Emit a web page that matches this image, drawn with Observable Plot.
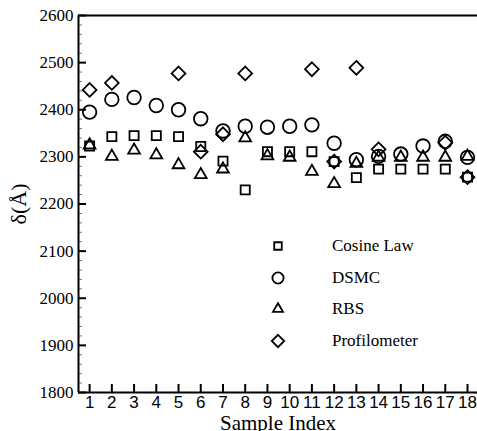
<!DOCTYPE html>
<html>
<head>
<meta charset="utf-8">
<script src="https://cdn.jsdelivr.net/npm/d3@7"></script>
<script src="https://cdn.jsdelivr.net/npm/@observablehq/plot@0.6"></script>
<style>
  html, body { margin: 0; padding: 0; background: #fff; }
  #wrap { position: relative; width: 477px; height: 431px; overflow: hidden; }
  #legend { position: absolute; left: 266px; top: 230px; font-family: "Liberation Serif", "Times New Roman", serif; font-size: 17px; color: #000; }
  .row { height: 31.7px; display: flex; align-items: center; }
  .row svg { width: 24px; height: 24px; margin-right: 42px; }
</style>
</head>
<body>
<div id="wrap"></div>
<script>
const samples = [1,2,3,4,5,6,7,8,9,10,11,12,13,14,15,16,17,18];
const cosineLaw = [2323,2343,2345,2345,2343,2322,2291,2230,2311,2311,2311,2290,2256,2274,2274,2274,2274,2257];
const dsmc      = [2395,2422,2426,2409,2400,2381,2355,2365,2363,2365,2368,2329,2294,2301,2306,2323,2333,2299];
const rbs       = [2325,2301,2314,2304,2283,2262,2274,2340,2302,2299,2269,2243,2286,2299,2299,2299,2299,2301];
const profilometer = [2442,2457,null,null,2477,2311,2348,2477,null,null,2486,2290,2489,2316,null,null,2330,2257];
const seriesNames = ["Cosine Law","DSMC","RBS","Profilometer"];
const yTicks = [1800,1900,2000,2100,2200,2300,2400,2500,2600];
const yMinorTicks = d3.range(1800, 2601, 20).filter(v => v % 100 !== 0);
const xDomain = [0.5, 18.45];
const yDomain = [1800, 2600];

const toRows = vals => samples.map((s, i) => ({x: s, y: vals[i]})).filter(d => d.y != null);

const W = 477, H = 431, mL = 78, mR = 0, mT = 15, mB = 39;
const frameW = W - mL - mR, frameH = H - mT - mB;
const sw = 1.8;

const chart = Plot.plot({
  width: W, height: H,
  marginLeft: mL, marginRight: mR, marginTop: mT, marginBottom: mB,
  style: {fontFamily: "'Liberation Serif', serif", fontSize: "15px", background: "#fff", overflow: "visible"},
  x: {domain: xDomain, ticks: samples},
  y: {domain: yDomain, ticks: yTicks},
  marks: [
    Plot.tickY(yMinorTicks, {y: d => d, insetRight: frameW - 4, stroke: "#777", strokeWidth: 1}),
    Plot.tickY(yTicks, {y: d => d, insetRight: frameW - 8, stroke: "#000", strokeWidth: 2}),
    Plot.tickX(samples, {x: d => d, insetTop: frameH - 8, stroke: "#000", strokeWidth: 2}),
    Plot.ruleX([xDomain[0]], {stroke: "#000", strokeWidth: 2}),
    Plot.ruleY(yDomain, {stroke: "#000", strokeWidth: 2}),
    Plot.axisY({ticks: yTicks, tickSize: 0, tickPadding: 5, tickFormat: d => String(d), fontSize: 17, fontFamily: "'Liberation Serif', serif", label: null}),
    Plot.axisX({ticks: samples, tickSize: 0, tickPadding: 3, tickFormat: d => String(d), fontSize: 17, fontFamily: "'Liberation Sans', Arial, sans-serif", label: null}),
    Plot.text(["Sample Index"], {text: d => d, frameAnchor: "bottom", dy: 31, fontSize: 21, fontFamily: "'Liberation Serif', serif", lineAnchor: "middle", textAnchor: "middle"}),
    Plot.text(["δ(Å)"], {text: d => d, frameAnchor: "left", dx: -60, rotate: -90, fontSize: 22, fontFamily: "'Liberation Serif', serif", lineAnchor: "middle", textAnchor: "middle"}),
    Plot.dot(toRows(cosineLaw), {x: "x", y: "y", symbol: "square2", r: 5.8, stroke: "#000", strokeWidth: sw, fill: "none"}),
    Plot.dot(toRows(dsmc), {x: "x", y: "y", symbol: "circle", r: 6.8, stroke: "#000", strokeWidth: sw, fill: "none"}),
    Plot.dot(toRows(rbs), {x: "x", y: "y", symbol: "triangle2", r: 5.6, stroke: "#000", strokeWidth: sw, fill: "none"}),
    Plot.dot(toRows(profilometer), {x: "x", y: "y", symbol: "diamond2", r: 6.2, stroke: "#000", strokeWidth: sw, fill: "none"})
  ]
});

const wrap = document.getElementById("wrap");
wrap.appendChild(chart);

// legend overlay
const symbols = [d3.symbolSquare2, d3.symbolCircle, d3.symbolTriangle2, d3.symbolDiamond2];
const sizes = [4.8, 5.6, 4.8, 5.6];
const legend = document.createElement("div");
legend.id = "legend";
seriesNames.forEach((name, i) => {
  const row = document.createElement("div");
  row.className = "row";
  const path = d3.symbol(symbols[i], Math.PI * sizes[i] * sizes[i])();
  row.innerHTML = `<svg viewBox="-12 -12 24 24"><path d="${path}" fill="none" stroke="#000" stroke-width="1.8"/></svg><span>${name}</span>`;
  legend.appendChild(row);
});
wrap.appendChild(legend);
</script>
</body>
</html>
